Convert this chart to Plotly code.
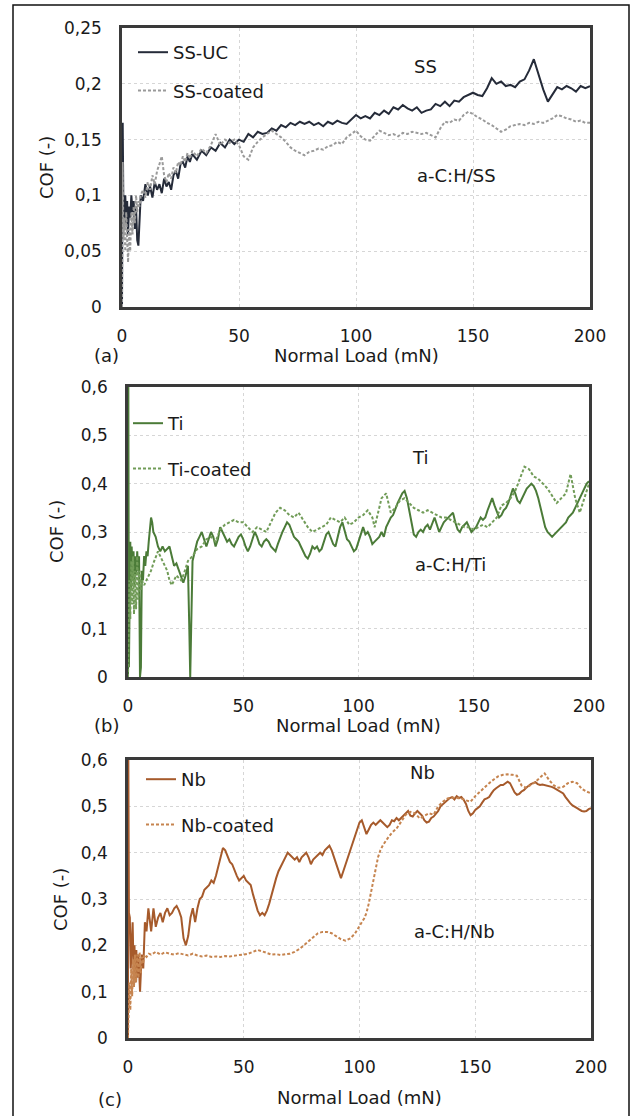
import plotly.graph_objects as go

# ---------------- data ----------------
LOAD_TICKS = [0, 50, 100, 150, 200]

SS_UC = [(0, 0.0), (0.3, 0.165), (0.6, 0.09), (1.0, 0.07), (1.4, 0.1), (1.8, 0.075), (2.2, 0.095), (2.6, 0.065),
         (3.0, 0.09), (3.5, 0.08), (4.0, 0.1), (4.5, 0.085), (5.0, 0.095), (5.5, 0.07), (6.0, 0.09), (6.5, 0.06),
         (7.0, 0.055), (7.5, 0.08), (8.0, 0.1), (9, 0.095), (10, 0.11), (11, 0.1), (12, 0.108), (13, 0.098),
         (14, 0.112), (15, 0.105), (16, 0.11), (17, 0.102), (18, 0.115), (19, 0.108), (20, 0.112), (21, 0.105),
         (22, 0.118), (23, 0.122), (24, 0.115), (25, 0.128), (26, 0.13), (27, 0.125), (28, 0.135), (29, 0.13),
         (30, 0.137), (32, 0.132), (34, 0.14), (36, 0.136), (38, 0.143), (40, 0.14), (42, 0.147), (44, 0.143),
         (46, 0.15), (48, 0.146), (50, 0.15), (52, 0.148), (54, 0.155), (56, 0.152), (58, 0.157), (60, 0.155),
         (62, 0.156), (64, 0.16), (66, 0.158), (68, 0.163), (70, 0.161), (72, 0.165), (74, 0.163), (76, 0.166),
         (78, 0.164), (80, 0.166), (82, 0.163), (84, 0.165), (86, 0.162), (88, 0.166), (90, 0.164), (92, 0.167),
         (94, 0.165), (96, 0.164), (98, 0.168), (100, 0.172), (102, 0.169), (104, 0.171), (106, 0.169),
         (108, 0.174), (110, 0.172), (112, 0.176), (114, 0.173), (116, 0.179), (118, 0.177), (120, 0.181),
         (122, 0.178), (124, 0.176), (126, 0.179), (128, 0.174), (130, 0.176), (132, 0.177), (134, 0.182),
         (136, 0.18), (138, 0.184), (140, 0.18), (142, 0.185), (144, 0.184), (146, 0.188), (148, 0.19),
         (150, 0.192), (152, 0.19), (154, 0.189), (156, 0.196), (158, 0.205), (160, 0.2), (162, 0.202),
         (164, 0.198), (166, 0.199), (168, 0.197), (170, 0.202), (172, 0.204), (174, 0.212), (176, 0.222),
         (178, 0.208), (180, 0.195), (182, 0.184), (184, 0.19), (186, 0.197), (188, 0.195), (190, 0.198),
         (192, 0.196), (194, 0.193), (196, 0.198), (198, 0.196), (200, 0.198)]

SS_COATED = [(0, 0.0), (0.3, 0.13), (0.6, 0.06), (1.0, 0.08), (1.4, 0.05), (1.8, 0.085), (2.2, 0.06), (2.6, 0.04),
             (3.0, 0.07), (3.5, 0.05), (4.0, 0.085), (4.5, 0.065), (5.0, 0.09), (5.5, 0.075), (6.0, 0.1),
             (6.5, 0.085), (7.0, 0.095), (7.5, 0.09), (8.0, 0.1), (9, 0.105), (10, 0.098), (11, 0.112), (12, 0.105),
             (13, 0.118), (14, 0.11), (15, 0.122), (16, 0.128), (17, 0.135), (18, 0.118), (19, 0.112), (20, 0.12),
             (21, 0.115), (22, 0.125), (23, 0.12), (24, 0.13), (25, 0.127), (26, 0.135), (27, 0.13), (28, 0.138),
             (29, 0.133), (30, 0.14), (32, 0.135), (34, 0.142), (36, 0.138), (38, 0.145), (40, 0.155), (42, 0.145),
             (44, 0.15), (46, 0.147), (48, 0.15), (50, 0.145), (52, 0.135), (54, 0.132), (56, 0.143), (58, 0.148),
             (60, 0.152), (62, 0.155), (64, 0.158), (66, 0.155), (68, 0.152), (70, 0.148), (72, 0.143), (74, 0.14),
             (76, 0.138), (78, 0.136), (80, 0.139), (82, 0.14), (84, 0.142), (86, 0.141), (88, 0.144), (90, 0.145),
             (92, 0.148), (94, 0.146), (96, 0.152), (98, 0.155), (100, 0.158), (102, 0.153), (104, 0.15),
             (106, 0.149), (108, 0.154), (110, 0.158), (112, 0.156), (114, 0.154), (116, 0.155), (118, 0.153),
             (120, 0.156), (122, 0.155), (124, 0.157), (126, 0.156), (128, 0.155), (130, 0.156), (132, 0.154),
             (134, 0.152), (136, 0.16), (138, 0.166), (140, 0.165), (142, 0.168), (144, 0.167), (146, 0.172),
             (148, 0.175), (150, 0.173), (152, 0.17), (154, 0.168), (156, 0.165), (158, 0.163), (160, 0.16),
             (162, 0.157), (164, 0.159), (166, 0.162), (168, 0.163), (170, 0.164), (172, 0.163), (174, 0.165),
             (176, 0.164), (178, 0.166), (180, 0.165), (182, 0.167), (184, 0.169), (186, 0.172), (188, 0.171),
             (190, 0.169), (192, 0.168), (194, 0.166), (196, 0.167), (198, 0.165), (200, 0.165)]

TI = [(0, 0.0), (0.15, 0.6), (0.4, 0.02), (0.7, 0.2), (1.0, 0.28), (1.3, 0.18), (1.6, 0.27), (2.0, 0.2), (2.4, 0.26),
      (2.8, 0.19), (3.2, 0.25), (3.6, 0.21), (4.0, 0.26), (4.4, 0.22), (4.8, 0.25), (5.2, 0.0), (5.6, 0.02),
      (6.0, 0.22), (6.5, 0.2), (7.0, 0.25), (7.5, 0.23), (8, 0.26), (8.5, 0.25), (9, 0.28), (9.5, 0.3), (10, 0.33),
      (10.5, 0.32), (11, 0.3), (12, 0.29), (13, 0.27), (14, 0.26), (15, 0.27), (16, 0.26), (17, 0.265), (18, 0.27),
      (19, 0.25), (20, 0.23), (21, 0.235), (22, 0.22), (23, 0.21), (24, 0.195), (25, 0.21), (26, 0.23),
      (26.6, 0.1), (27, 0.0), (27.4, 0.1), (28, 0.24), (29, 0.26), (30, 0.28), (31, 0.29), (32, 0.3), (33, 0.285),
      (34, 0.27), (35, 0.285), (36, 0.3), (37, 0.29), (38, 0.27), (39, 0.285), (40, 0.31), (41, 0.3), (42, 0.29),
      (43, 0.28), (44, 0.285), (45, 0.275), (46, 0.27), (47, 0.28), (48, 0.29), (49, 0.295), (50, 0.285),
      (51, 0.27), (52, 0.26), (53, 0.27), (54, 0.285), (55, 0.3), (56, 0.29), (57, 0.275), (58, 0.27), (59, 0.28),
      (60, 0.285), (61, 0.28), (62, 0.27), (63, 0.265), (64, 0.26), (65, 0.275), (66, 0.29), (67, 0.3), (68, 0.31),
      (69, 0.32), (70, 0.315), (71, 0.3), (72, 0.29), (73, 0.285), (74, 0.28), (75, 0.27), (76, 0.26), (77, 0.25),
      (78, 0.245), (79, 0.255), (80, 0.27), (81, 0.265), (82, 0.27), (83, 0.26), (84, 0.265), (85, 0.28),
      (86, 0.295), (87, 0.3), (88, 0.285), (89, 0.275), (90, 0.27), (91, 0.29), (92, 0.31), (93, 0.32), (94, 0.3),
      (95, 0.285), (96, 0.28), (97, 0.27), (98, 0.26), (99, 0.265), (100, 0.28), (101, 0.3), (102, 0.31),
      (103, 0.295), (104, 0.3), (105, 0.29), (106, 0.275), (107, 0.28), (108, 0.285), (109, 0.29), (110, 0.3),
      (111, 0.29), (112, 0.31), (113, 0.32), (114, 0.33), (115, 0.335), (116, 0.35), (117, 0.36), (118, 0.37),
      (119, 0.38), (120, 0.385), (121, 0.37), (122, 0.345), (123, 0.32), (124, 0.295), (125, 0.29), (126, 0.3),
      (127, 0.305), (128, 0.3), (129, 0.31), (130, 0.315), (131, 0.305), (132, 0.32), (133, 0.33), (134, 0.315),
      (135, 0.3), (136, 0.31), (137, 0.32), (138, 0.325), (139, 0.33), (140, 0.335), (141, 0.34), (142, 0.32),
      (143, 0.305), (144, 0.3), (145, 0.31), (146, 0.315), (147, 0.32), (148, 0.31), (149, 0.3), (150, 0.305),
      (151, 0.31), (152, 0.32), (153, 0.33), (154, 0.325), (155, 0.33), (156, 0.345), (157, 0.36), (158, 0.37),
      (159, 0.355), (160, 0.34), (161, 0.33), (162, 0.335), (163, 0.345), (164, 0.35), (165, 0.36), (166, 0.375),
      (167, 0.39), (168, 0.38), (169, 0.365), (170, 0.36), (171, 0.37), (172, 0.38), (173, 0.39), (174, 0.395),
      (175, 0.4), (176, 0.395), (177, 0.385), (178, 0.37), (179, 0.35), (180, 0.33), (181, 0.31), (182, 0.3),
      (183, 0.295), (184, 0.29), (185, 0.295), (186, 0.3), (187, 0.305), (188, 0.31), (189, 0.315), (190, 0.32),
      (191, 0.33), (192, 0.335), (193, 0.34), (194, 0.35), (195, 0.36), (196, 0.37), (197, 0.38), (198, 0.39),
      (199, 0.4), (200, 0.405)]

TI_COATED = [(0, 0.0), (0.3, 0.1), (0.6, 0.2), (1.0, 0.12), (1.4, 0.24), (1.8, 0.15), (2.2, 0.25), (2.6, 0.13),
             (3.0, 0.22), (3.5, 0.14), (4.0, 0.25), (4.5, 0.16), (5.0, 0.22), (5.5, 0.18), (6.0, 0.2), (7, 0.19),
             (8, 0.2), (9, 0.21), (10, 0.22), (11, 0.235), (12, 0.25), (13, 0.26), (14, 0.25), (15, 0.24),
             (16, 0.23), (17, 0.22), (18, 0.2), (19, 0.19), (20, 0.2), (21, 0.21), (22, 0.205), (23, 0.2),
             (24, 0.21), (25, 0.225), (26, 0.24), (27, 0.245), (28, 0.25), (30, 0.265), (32, 0.27), (34, 0.285),
             (36, 0.29), (38, 0.28), (40, 0.305), (42, 0.315), (44, 0.32), (46, 0.325), (48, 0.32), (50, 0.32),
             (52, 0.31), (54, 0.3), (56, 0.31), (58, 0.305), (60, 0.3), (62, 0.32), (64, 0.34), (66, 0.35),
             (68, 0.345), (70, 0.335), (72, 0.33), (74, 0.34), (76, 0.325), (78, 0.31), (80, 0.3), (82, 0.305),
             (84, 0.31), (86, 0.315), (88, 0.33), (90, 0.325), (92, 0.32), (94, 0.33), (96, 0.315), (98, 0.32),
             (100, 0.33), (102, 0.335), (104, 0.345), (106, 0.33), (107, 0.31), (108, 0.33), (110, 0.37),
             (112, 0.38), (114, 0.34), (116, 0.35), (118, 0.365), (120, 0.37), (122, 0.36), (124, 0.35),
             (126, 0.345), (128, 0.34), (130, 0.345), (132, 0.34), (134, 0.335), (136, 0.33), (138, 0.33),
             (140, 0.325), (142, 0.32), (144, 0.315), (146, 0.31), (148, 0.31), (150, 0.305), (152, 0.31),
             (154, 0.315), (156, 0.31), (158, 0.32), (160, 0.33), (162, 0.355), (164, 0.36), (166, 0.37),
             (168, 0.385), (170, 0.41), (172, 0.435), (174, 0.43), (176, 0.415), (178, 0.41), (180, 0.4),
             (182, 0.39), (184, 0.375), (186, 0.36), (188, 0.37), (190, 0.38), (192, 0.42), (194, 0.37),
             (196, 0.34), (198, 0.37), (200, 0.4)]

NB = [(0, 0.0), (0.15, 0.6), (0.4, 0.27), (0.8, 0.26), (1.2, 0.15), (1.6, 0.2), (2.0, 0.25), (2.4, 0.15), (2.8, 0.2),
      (3.2, 0.12), (3.6, 0.19), (4.0, 0.13), (4.5, 0.18), (5.2, 0.1), (5.9, 0.18), (6.6, 0.15), (7.3, 0.25),
      (8, 0.23), (8.8, 0.28), (10, 0.23), (11, 0.28), (12, 0.24), (13, 0.26), (14, 0.27), (15, 0.25), (16, 0.27),
      (17, 0.28), (18, 0.265), (19, 0.27), (20, 0.28), (21, 0.285), (22, 0.275), (23, 0.26), (24, 0.215),
      (25, 0.2), (26, 0.22), (27, 0.26), (28, 0.28), (29, 0.25), (30, 0.28), (31, 0.3), (32, 0.305), (33, 0.32),
      (34, 0.325), (35, 0.33), (36, 0.34), (37, 0.335), (38, 0.35), (39, 0.37), (40, 0.395), (41, 0.41),
      (42, 0.405), (43, 0.39), (44, 0.38), (45, 0.375), (46, 0.36), (47, 0.35), (48, 0.34), (49, 0.345),
      (50, 0.35), (51, 0.34), (52, 0.335), (53, 0.33), (54, 0.31), (55, 0.29), (56, 0.275), (57, 0.265),
      (58, 0.27), (59, 0.265), (60, 0.275), (61, 0.29), (62, 0.31), (63, 0.33), (64, 0.345), (65, 0.36),
      (66, 0.37), (67, 0.38), (68, 0.39), (69, 0.4), (70, 0.395), (71, 0.39), (72, 0.385), (73, 0.39), (74, 0.38),
      (75, 0.39), (76, 0.395), (77, 0.4), (78, 0.39), (79, 0.375), (80, 0.385), (81, 0.39), (82, 0.395), (83, 0.4),
      (84, 0.395), (85, 0.405), (86, 0.41), (87, 0.415), (88, 0.405), (89, 0.39), (90, 0.37), (91, 0.355),
      (92, 0.345), (93, 0.36), (94, 0.375), (95, 0.39), (96, 0.405), (97, 0.42), (98, 0.44), (99, 0.455),
      (100, 0.465), (101, 0.47), (102, 0.455), (103, 0.44), (104, 0.45), (105, 0.46), (106, 0.465), (107, 0.46),
      (108, 0.465), (109, 0.47), (110, 0.465), (111, 0.46), (112, 0.455), (113, 0.46), (114, 0.47), (115, 0.468),
      (116, 0.475), (117, 0.47), (118, 0.475), (119, 0.48), (120, 0.485), (121, 0.49), (122, 0.48), (123, 0.478),
      (124, 0.485), (125, 0.49), (126, 0.485), (127, 0.48), (128, 0.47), (129, 0.465), (130, 0.467),
      (131, 0.475), (132, 0.478), (133, 0.485), (134, 0.49), (135, 0.5), (136, 0.505), (137, 0.51), (138, 0.515),
      (139, 0.518), (140, 0.52), (141, 0.515), (142, 0.522), (143, 0.518), (144, 0.52), (145, 0.514),
      (146, 0.505), (147, 0.49), (148, 0.481), (149, 0.485), (150, 0.492), (151, 0.496), (152, 0.5),
      (153, 0.508), (154, 0.515), (155, 0.517), (156, 0.52), (157, 0.528), (158, 0.535), (159, 0.539),
      (160, 0.543), (161, 0.546), (162, 0.546), (163, 0.55), (164, 0.553), (165, 0.55), (166, 0.54), (167, 0.53),
      (168, 0.525), (169, 0.527), (170, 0.532), (171, 0.535), (172, 0.54), (173, 0.545), (174, 0.548),
      (175, 0.55), (176, 0.552), (177, 0.548), (178, 0.546), (179, 0.547), (180, 0.546), (181, 0.544),
      (182, 0.543), (183, 0.542), (184, 0.54), (185, 0.537), (186, 0.533), (187, 0.53), (188, 0.528), (189, 0.52),
      (190, 0.512), (191, 0.507), (192, 0.502), (193, 0.498), (194, 0.496), (195, 0.493), (196, 0.49),
      (197, 0.489), (198, 0.49), (199, 0.494), (200, 0.496)]

NB_COATED = [(0, 0.0), (0.3, 0.04), (0.6, 0.12), (1.0, 0.06), (1.4, 0.15), (1.8, 0.09), (2.2, 0.17), (2.6, 0.11),
             (3.0, 0.18), (3.5, 0.12), (4.0, 0.18), (4.5, 0.13), (5.0, 0.185), (5.5, 0.14), (6.0, 0.175),
             (6.5, 0.16), (7.0, 0.18), (8, 0.175), (9, 0.182), (10, 0.18), (12, 0.186), (14, 0.18), (16, 0.185),
             (18, 0.182), (20, 0.18), (22, 0.183), (24, 0.18), (26, 0.178), (28, 0.182), (30, 0.178), (32, 0.176),
             (34, 0.178), (36, 0.175), (38, 0.176), (40, 0.175), (42, 0.177), (44, 0.176), (46, 0.178), (48, 0.179),
             (50, 0.18), (52, 0.182), (54, 0.186), (56, 0.19), (58, 0.187), (60, 0.183), (62, 0.18), (64, 0.181),
             (66, 0.179), (68, 0.181), (70, 0.182), (72, 0.186), (74, 0.192), (76, 0.2), (78, 0.208), (80, 0.218),
             (82, 0.226), (84, 0.229), (86, 0.229), (88, 0.226), (90, 0.22), (92, 0.213), (94, 0.21), (96, 0.215),
             (98, 0.225), (100, 0.24), (101, 0.25), (102, 0.258), (103, 0.27), (104, 0.29), (105, 0.315),
             (106, 0.34), (107, 0.37), (108, 0.39), (109, 0.405), (110, 0.415), (112, 0.43), (114, 0.443),
             (116, 0.452), (118, 0.466), (120, 0.482), (122, 0.488), (124, 0.485), (126, 0.474), (128, 0.48),
             (130, 0.485), (132, 0.482), (134, 0.5), (136, 0.51), (138, 0.517), (140, 0.519), (142, 0.518),
             (144, 0.517), (146, 0.513), (148, 0.51), (150, 0.522), (152, 0.532), (154, 0.542), (156, 0.55),
             (158, 0.558), (160, 0.565), (162, 0.568), (164, 0.569), (166, 0.568), (168, 0.566), (170, 0.545),
             (172, 0.54), (174, 0.546), (176, 0.553), (178, 0.562), (180, 0.571), (182, 0.556), (184, 0.545),
             (186, 0.54), (188, 0.542), (190, 0.55), (192, 0.553), (194, 0.55), (196, 0.538), (198, 0.532),
             (200, 0.528)]

SS_TICKS = [0, 0.05, 0.1, 0.15, 0.2, 0.25]
SS_TICKTEXT = ["0", "0,05", "0,1", "0,15", "0,2", "0,25"]
TINB_TICKS = [0, 0.1, 0.2, 0.3, 0.4, 0.5, 0.6]
TINB_TICKTEXT = ["0", "0,1", "0,2", "0,3", "0,4", "0,5", "0,6"]

# ---------------- styling ----------------
W, H = 633, 1116
FONT = "DejaVu Sans"
TXT = "#1a1a1a"
FRAME = "#3a3a3a"
GRID = "#d6d6d6"


def fx(p):
    return p / W


def fy(p):
    return 1 - p / H


def xy(points):
    return [p[0] for p in points], [p[1] for p in points]


fig = go.Figure()

panels = [
    dict(ax="", leg="legend", series=[SS_UC, SS_COATED], names=["SS-UC", "SS-coated"],
         colors=["#252b39", "#9a9a9a"], yr=0.25, tv=SS_TICKS, tt=SS_TICKTEXT, box=(122, 590, 28, 307)),
    dict(ax="2", leg="legend2", series=[TI, TI_COATED], names=["Ti", "Ti-coated"],
         colors=["#4b7b38", "#719c58"], yr=0.6, tv=TINB_TICKS, tt=TINB_TICKTEXT, box=(128, 589, 387, 677)),
    dict(ax="3", leg="legend3", series=[NB, NB_COATED], names=["Nb", "Nb-coated"],
         colors=["#a65a2b", "#c6844f"], yr=0.6, tv=TINB_TICKS, tt=TINB_TICKTEXT, box=(128, 591, 760, 1038)),
]

for i, pn in enumerate(panels):
    for j, (ser, nm, col) in enumerate(zip(pn["series"], pn["names"], pn["colors"])):
        xs, ys = xy(ser)
        fig.add_trace(go.Scatter(
            x=xs, y=ys, mode="lines", name=nm,
            xaxis="x" + pn["ax"], yaxis="y" + pn["ax"], legend=pn["leg"],
            legendgroup=f"g{i}{j}",
            line=dict(color=col, width=2, dash="solid" if j == 0 else "3px,2px"),
            showlegend=True,
        ))
    l, r, t, b = pn["box"]
    axis_common = dict(showline=True, linecolor=FRAME, linewidth=2.5, mirror=True, ticks="",
                       zeroline=False, showgrid=True, gridcolor=GRID, griddash="dot", gridwidth=1,
                       automargin=False,
                       tickfont=dict(family=FONT, size=17, color=TXT), layer="below traces")
    fig.layout["xaxis" + pn["ax"]] = dict(
        axis_common, domain=[fx(l), fx(r)], range=[0, 200], tickvals=LOAD_TICKS,
        anchor="y" + pn["ax"], ticklabelstandoff=12)
    fig.layout["yaxis" + pn["ax"]] = dict(
        axis_common, domain=[fy(b), fy(t)], range=[0, pn["yr"]], tickvals=pn["tv"], ticktext=pn["tt"],
        anchor="x" + pn["ax"], ticklabelstandoff=14)

legend_common = dict(font=dict(family=FONT, size=18, color=TXT), bgcolor="rgba(0,0,0,0)",
                     borderwidth=0, xanchor="left", yanchor="top", itemwidth=30)
fig.update_layout(
    legend=dict(legend_common, x=fx(133), y=fy(34), tracegroupgap=12),
    legend2=dict(legend_common, x=fx(128), y=fy(405), tracegroupgap=19),
    legend3=dict(legend_common, x=fx(141), y=fy(761), tracegroupgap=19),
)

ann = []


def text(x, y, s, size=18, angle=0):
    ann.append(dict(x=fx(x), y=fy(y), xref="paper", yref="paper", text=s, showarrow=False,
                    xanchor="center", yanchor="middle", textangle=angle,
                    font=dict(family=FONT, size=size, color=TXT)))


text(425, 67, "SS")
text(456, 175, "a-C:H/SS")
text(420, 458, "Ti")
text(451, 564, "a-C:H/Ti")
text(422, 772, "Nb")
text(455, 931, "a-C:H/Nb")
text(356, 355, "Normal Load (mN)")
text(358, 725, "Normal Load (mN)")
text(359, 1097, "Normal Load (mN)")
text(47, 167, "COF (-)", angle=-90)
text(57, 532, "COF (-)", angle=-90)
text(60, 899, "COF (-)", angle=-90)
text(106, 355, "(a)")
text(106, 725, "(b)")
text(110, 1099, "(c)")

fig.update_layout(
    width=W, height=H, margin=dict(l=0, r=0, t=0, b=0, autoexpand=False),
    paper_bgcolor="white", plot_bgcolor="white",
    annotations=ann,
    shapes=[dict(type="rect", xref="paper", yref="paper", x0=fx(13), x1=fx(629), y0=-0.05, y1=fy(5),
                 line=dict(color="#111111", width=1.5), fillcolor="rgba(0,0,0,0)", layer="below")],
)

fig.write_html("out.html", config={"displayModeBar": False},
               post_script="document.body.style.margin='0px';document.body.style.padding='0px';")
